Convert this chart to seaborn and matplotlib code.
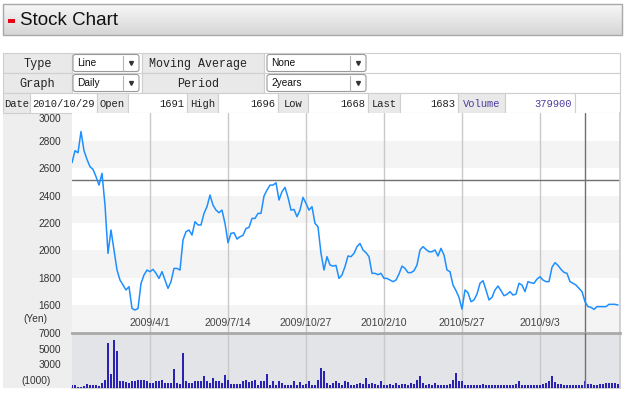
import numpy as np
import matplotlib
matplotlib.use("Agg")
import matplotlib.pyplot as plt
from matplotlib.patches import Rectangle, FancyBboxPatch
import seaborn as sns

# ========== DATA ==========
# daily closing price (yen), one sample every ~3 trading days
price = [2642, 2730, 2715, 2870, 2730, 2666, 2613, 2593, 2540, 2478,
         2564, 2332, 1978, 2149, 2003, 1856, 1783, 1746, 1710, 1734,
         1575, 1563, 1575, 1758, 1820, 1856, 1844, 1861, 1832, 1795,
         1844, 1783, 1722, 1771, 1868, 1868, 1856, 2076, 2137, 2149,
         2112, 2210, 2186, 2186, 2271, 2320, 2405, 2332, 2295, 2276,
         2295, 2198, 2056, 2125, 2129, 2083, 2100, 2110, 2161, 2168,
         2234, 2234, 2271, 2271, 2398, 2442, 2478, 2478, 2495, 2369,
         2430, 2461, 2388, 2295, 2300, 2247, 2295, 2388, 2344, 2295,
         2320, 2198, 2173, 1978, 1856, 1954, 1893, 1885, 1890, 1795,
         1820, 1881, 1959, 1954, 1978, 2027, 2051, 2003, 1983, 1954,
         1832, 1832, 1822, 1832, 1795, 1795, 1783, 1771, 1783, 1827,
         1885, 1868, 1837, 1837, 1851, 1893, 2003, 2027, 2007, 1990,
         1990, 2003, 1959, 2015, 1966, 1856, 1844, 1746, 1705, 1656,
         1570, 1710, 1690, 1624, 1637, 1680, 1759, 1778, 1710, 1637,
         1656, 1710, 1739, 1705, 1668, 1678, 1698, 1673, 1680, 1759,
         1746, 1698, 1771, 1763, 1759, 1790, 1807, 1783, 1771, 1771,
         1876, 1910, 1890, 1861, 1839, 1832, 1771, 1759, 1746, 1722,
         1698, 1624, 1588, 1583, 1568, 1588, 1588, 1588, 1588, 1605,
         1605, 1605, 1600]

# volume in thousands of shares
volume = [430, 430, 130, 130, 220, 520, 430, 350, 430, 220,
          650, 1080, 5700, 1800, 6150, 4760, 870, 870, 780, 650,
          950, 950, 1080, 1080, 1080, 870, 650, 650, 870, 870,
          1080, 650, 650, 650, 2470, 650, 520, 4420, 870, 650,
          650, 870, 870, 870, 1500, 870, 650, 1300, 870, 870,
          650, 1650, 1080, 520, 520, 520, 520, 870, 1080, 780,
          870, 1080, 430, 870, 870, 1820, 430, 870, 430, 870,
          650, 430, 350, 430, 870, 430, 780, 350, 520, 950,
          430, 350, 1080, 2600, 2170, 650, 430, 650, 950, 650,
          430, 950, 780, 430, 430, 520, 650, 520, 1300, 520,
          650, 520, 430, 870, 430, 350, 520, 430, 600, 430,
          520, 520, 430, 650, 520, 1080, 1500, 650, 430, 520,
          430, 650, 350, 350, 430, 430, 520, 1080, 1950, 870,
          870, 350, 430, 430, 350, 350, 350, 520, 350, 350,
          430, 350, 350, 350, 350, 350, 430, 430, 520, 870,
          350, 430, 430, 430, 430, 430, 350, 520, 650, 870,
          1500, 780, 520, 520, 430, 350, 430, 350, 350, 350,
          430, 870, 520, 520, 430, 350, 520, 520, 650, 650,
          650, 650, 520]

tick_idx = [26, 52, 78, 104, 130, 156]
tick_labels = ["2009/4/1", "2009/7/14", "2009/10/27", "2010/2/10", "2010/5/27", "2010/9/3"]
price_ticks = [1600, 1800, 2000, 2200, 2400, 2600, 2800, 3000]
vol_ticks = [3000, 5000, 7000]
cursor_idx = 171
cursor_price = 2513

quote_labels = ["Date", "Open", "High", "Low", "Last", "Volume"]
quote_values = ["2010/10/29", "1691", "1696", "1668", "1683", "379900"]

idx = np.arange(len(price))

# ========== FIGURE ==========
sns.set_theme(style="white")
plt.rcParams['font.family'] = ['Liberation Sans', 'DejaVu Sans']

W, H = 627, 395
fig = plt.figure(figsize=(W / 100, H / 100), dpi=100)

def px_ax(x0, y0, x1, y1):
    return fig.add_axes([x0 / W, 1 - y1 / H, (x1 - x0) / W, (y1 - y0) / H])

bg = fig.add_axes([0, 0, 1, 1])
bg.set_xlim(0, W)
bg.set_ylim(H, 0)
bg.axis('off')

MONO = 'Liberation Mono'
GRAY = '#e9e9e9'
EDGE = '#cfcfcf'

# header bar
grad = np.linspace(0, 1, 40)[:, None, None]
top, bot = np.array([0.97, 0.97, 0.97]), np.array([0.84, 0.84, 0.84])
bg.imshow(top + (bot - top) * grad, extent=(3, 622, 35, 4), aspect='auto', zorder=1)
bg.add_patch(Rectangle((3, 4), 619, 31, fill=False, ec='#a8a8a8', lw=1, zorder=2))
bg.plot([7.5, 14.5], [20.5, 20.5], color='#e60012', lw=2.8, solid_capstyle='butt', zorder=3)
bg.text(20, 20.5, "Stock Chart", fontsize=13.5, va='center', ha='left', color='#111', zorder=3)

def cell(x0, x1, y0, y1, fc):
    bg.add_patch(Rectangle((x0, y0), x1 - x0, y1 - y0, fc=fc, ec=EDGE, lw=0.8, zorder=2))

def dropdown(x0, x1, y0, y1, text):
    bg.add_patch(FancyBboxPatch((x0, y0), x1 - x0, y1 - y0,
                                boxstyle="round,pad=0,rounding_size=2.5",
                                fc='white', ec='#9a9a9a', lw=0.8, zorder=3))
    bg.plot([x1 - 16, x1 - 16], [y0 + 1, y1 - 1], color='#b5b5b5', lw=0.8, zorder=4)
    bg.plot(x1 - 8, (y0 + y1) / 2, marker='v', ms=2.8, color='#333', zorder=4)
    bg.text(x0 + 4, (y0 + y1) / 2 + 0.5, text, fontsize=7.3, va='center', ha='left',
            color='#111', zorder=4)

# form rows
for (y0, y1), lab1, val1, lab2, val2 in [((53, 73), "Type", "Line", "Moving Average", "None"),
                                         ((73, 93), "Graph", "Daily", "Period", "2years")]:
    cell(3, 72, y0, y1, GRAY)
    cell(72, 142, y0, y1, 'white')
    cell(142, 264, y0, y1, GRAY)
    cell(264, 620, y0, y1, 'white')
    bg.text(37.5, (y0 + y1) / 2 + 1, lab1, family=MONO, fontsize=8.6, ha='center', va='center', color='#222', zorder=4)
    bg.text(198, (y0 + y1) / 2 + 1, lab2, family=MONO, fontsize=8.4, ha='center', va='center', color='#222', zorder=4)
    dropdown(73, 139, y0 + 1.5, y1 - 1.5, val1)
    dropdown(267, 366, y0 + 1.5, y1 - 1.5, val2)

# quote row
lab_cells = [(3, 30), (97, 128), (187, 218), (278, 308), (368, 400), (458, 505)]
val_cells = [(30, 97), (128, 187), (218, 278), (308, 368), (400, 458), (505, 575)]
QF = 7.6
for k, (lab, val) in enumerate(zip(quote_labels, quote_values)):
    c = '#4b3f9e' if lab == "Volume" else '#222'
    lx0, lx1 = lab_cells[k]
    vx0, vx1 = val_cells[k]
    cell(lx0, lx1, 93, 113, GRAY)
    cell(vx0, vx1, 93, 113, 'white')
    bg.text((lx0 + lx1) / 2, 104, lab, family=MONO, fontsize=QF, ha='center', va='center', color=c, zorder=4)
    if k == 0:
        bg.text((vx0 + vx1) / 2, 104, val, family=MONO, fontsize=QF, ha='center', va='center', color=c, zorder=4)
    else:
        bg.text(vx1 - 3, 104, val, family=MONO, fontsize=QF, ha='right', va='center', color=c, zorder=4)
cell(575, 620, 93, 113, 'white')

# left label column of the chart
bg.add_patch(Rectangle((3, 113), 69, 275, fc='#eeeeee', ec='none', zorder=1))
bg.text(35.5, 319, "(Yen)", fontsize=7.3, ha='center', va='center', color='#333', zorder=2)
bg.text(36, 380.5, "(1000)", fontsize=7.3, ha='center', va='center', color='#333', zorder=2)

XLIM = (0, 182.67)

# ========== PRICE PANEL ==========
ax = px_ax(72, 113, 620, 333)
ax.set_facecolor('white')
for t in price_ticks[::2]:
    ax.axhspan(t - 200, t, color='#f4f4f4', lw=0, zorder=0)
sns.lineplot(x=idx, y=price, ax=ax, color='#1e8fff', lw=1.1, zorder=3)
ax.set_xlim(*XLIM)
ax.set_ylim(1395, 3006)
ax.set_xticks(tick_idx)
ax.set_xticklabels([])
ax.set_yticks(price_ticks)
ax.set_yticklabels([str(t) for t in price_ticks])
ax.get_yticklabels()[-1].set_va('top')
ax.tick_params(axis='both', length=0)
ax.tick_params(axis='y', pad=8, labelsize=7.3, labelcolor='#333')
ax.grid(axis='x', color='#c9c9c9', lw=1, zorder=1)
ax.grid(axis='y', visible=False)
ax.set_xlabel('')
ax.set_ylabel('')
for i, lab in zip(tick_idx, tick_labels):
    ax.text(i, 0.045, lab, transform=ax.get_xaxis_transform(), ha='center', va='center',
            fontsize=7.6, color='#444', zorder=4)
ax.axvline(cursor_idx, color='#707070', lw=1, zorder=2)
ax.axhline(cursor_price, color='#707070', lw=1, zorder=2)
for s in ['left', 'top', 'bottom']:
    ax.spines[s].set_visible(False)
ax.spines['right'].set_color('#cccccc')

# ========== VOLUME PANEL ==========
vax = px_ax(72, 333, 620, 388)
vax.set_facecolor('#e2e4e8')
sns.barplot(x=idx, y=volume, ax=vax, color='#2a22b2', width=0.9, native_scale=True,
            saturation=1, linewidth=0, errorbar=None, zorder=3)
vax.set_xlim(*XLIM)
vax.set_ylim(0, 7000)
vax.set_xticks(tick_idx)
vax.set_xticklabels([])
vax.set_yticks(vol_ticks)
vax.set_yticklabels([str(t) for t in vol_ticks])
vax.tick_params(axis='both', length=0)
vax.tick_params(axis='y', pad=8, labelsize=7.3, labelcolor='#333')
vax.grid(axis='x', color='#c9c9c9', lw=1, zorder=1)
vax.grid(axis='y', visible=False)
vax.set_axisbelow(True)
vax.set_xlabel('')
vax.set_ylabel('')
vax.axvline(cursor_idx, color='#707070', lw=1, zorder=4)
vax.spines['left'].set_visible(False)
vax.spines['top'].set_color('#a9a9a9')
vax.spines['top'].set_linewidth(2)
vax.spines['right'].set_color('#cccccc')
vax.spines['bottom'].set_color('#cccccc')

fig.savefig("out.png", dpi=100)
